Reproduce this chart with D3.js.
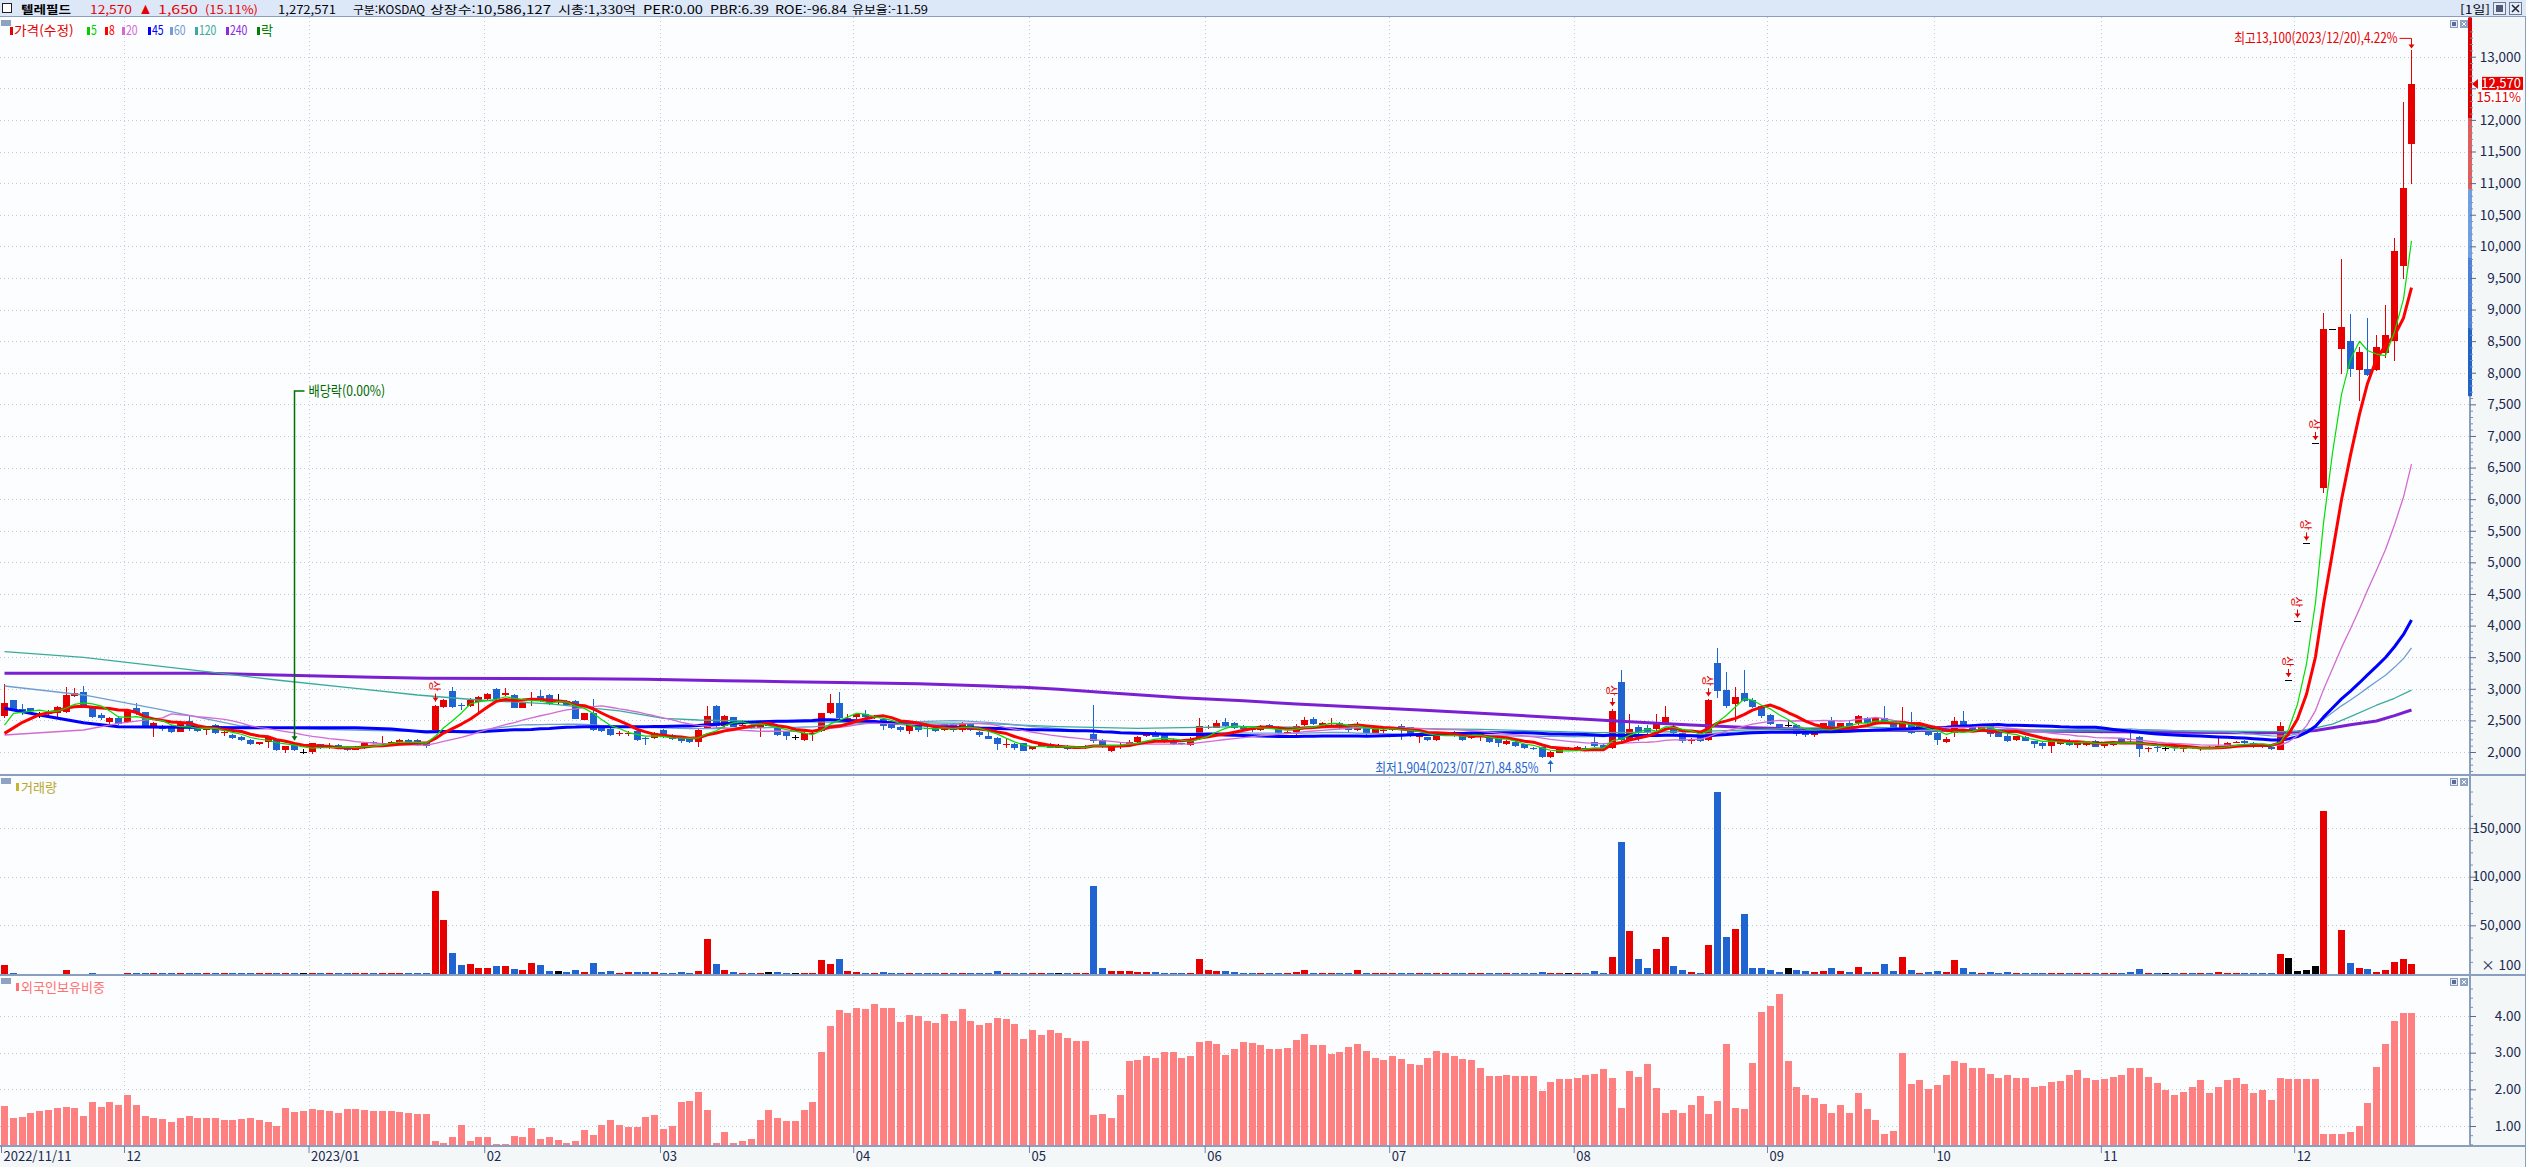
<!DOCTYPE html>
<html lang="ko">
<head>
<meta charset="UTF-8">
<style>
  body { margin: 0; background: #ffffff; }
  svg text { font-family: "Noto Sans CJK KR", "Liberation Sans", sans-serif; }
</style>
</head>
<body>
<svg id="chart" width="2526" height="1167"></svg>
<script src="https://d3js.org/d3.v7.min.js"></script>
<script>
// ---- daily candles, 2022/11/11 .. 2023/12/20 (275 trading days) ----
const openP = [
  2570,2823,2680,2691,2585,2596,2622,2638,2886,2955, 2707,2585,2480,2543,2480,2691,2628,2390,2417,2401,
  2322,2491,2417,2348,2427,2300,2269,2232,2190,2127, 2153,2200,2032,2127,2005,2005,2122,2085,2111,2069,
  2032,2058,2164,2127,2127,2153,2190,2190,2148,2348, 2717,2965,2750,2728,2797,2839,2992,2902,2902,2702,
  2823,2892,2902,2807,2807,2807,2506,2612,2401,2364, 2280,2280,2332,2227,2216,2348,2269,2232,2206,2164,
  2385,2728,2411,2549,2420,2417,2375,2427,2385,2322, 2243,2190,2290,2338,2612,2770,2528,2559,2601,2549,
  2517,2443,2401,2338,2454,2375,2375,2348,2443,2348, 2454,2322,2253,2227,2117,2127,2137,2042,2095,2127,
  2085,2100,2060,2058,2285,2190,2021,2095,2127,2164, 2260,2295,2269,2190,2148,2111,2200,2390,2385,2470,
  2454,2400,2384,2347,2426,2400,2310,2320,2426,2516, 2426,2450,2453,2416,2347,2389,2305,2340,2347,2416,
  2389,2231,2231,2189,2268,2300,2310,2215,2242,2258, 2205,2126,2163,2126,2070,2073,1915,1990,2047,2021,
  2060,2152,2110,2057,3101,2189,2400,2374,2363,2442, 2400,2294,2185,2242,2189,3402,2980,2758,2927,2822,
  2732,2585,2442,2426,2426,2337,2268,2363,2505,2400, 2463,2453,2532,2437,2532,2490,2363,2469,2400,2384,
  2305,2163,2294,2495,2416,2347,2426,2321,2252,2189, 2242,2173,2147,2100,2126,2178,2110,2110,2178,2100,
  2110,2215,2210,2242,2050,2085,2057,2080,2060,2094, 2050,2084,2057,2084,2155,2173,2147,2110,2073,2031,
  3140,4080,5300,6890,6180,8690,8380,8510,8050,8060, 8050,8310,8500,9690,11620
];
const highP = [
  3070,2830,2754,2700,2638,2660,2720,3034,3007,3044, 2720,2620,2555,2575,2680,2770,2640,2470,2430,2420,
  2480,2570,2430,2400,2440,2340,2290,2250,2210,2160, 2240,2210,2100,2140,2040,2150,2130,2150,2130,2080,
  2090,2160,2180,2253,2180,2200,2200,2200,2160,2750, 2840,3030,2770,2860,2880,2930,3010,3018,2920,2780,
  2955,2980,2920,2910,2820,2820,2620,2833,2410,2380, 2340,2330,2350,2240,2310,2360,2280,2240,2220,2360,
  2728,2740,2580,2560,2510,2430,2450,2500,2440,2330, 2270,2310,2330,2620,2913,2949,2600,2610,2660,2580,
  2530,2450,2410,2440,2470,2440,2400,2450,2460,2480, 2460,2330,2330,2240,2200,2140,2150,2100,2140,2140,
  2130,2110,2090,2110,2744,2200,2090,2140,2190,2250, 2290,2340,2280,2200,2150,2240,2538,2420,2500,2530,
  2470,2420,2400,2420,2440,2410,2340,2440,2550,2560, 2470,2540,2470,2440,2480,2400,2400,2380,2400,2440,
  2400,2280,2240,2280,2320,2330,2320,2280,2300,2270, 2210,2190,2180,2130,2080,2080,2020,2070,2080,2100,
  2100,2230,2150,2680,3297,2600,2430,2420,2600,2730, 2420,2300,2220,2250,2835,3639,3260,3033,3297,2850,
  2750,2600,2450,2500,2440,2350,2350,2460,2560,2460, 2500,2590,2560,2560,2732,2510,2716,2627,2460,2390,
  2310,2230,2560,2648,2450,2440,2440,2330,2300,2260, 2250,2180,2160,2210,2190,2200,2160,2170,2190,2160,
  2170,2220,2360,2250,2080,2090,2080,2085,2085,2100, 2080,2090,2252,2160,2170,2190,2160,2120,2080,2470,
  3140,4080,5300,6890,8950,8690,9800,8930,8400,8870, 8600,9075,10130,12280,13100
];
const lowP = [
  2533,2650,2585,2620,2533,2570,2528,2620,2870,2700, 2530,2510,2430,2420,2460,2580,2380,2243,2340,2300,
  2310,2340,2320,2269,2290,2250,2210,2170,2110,2110, 2069,2010,1980,2010,1970,1963,2050,2040,2050,2020,
  2030,2050,2120,2110,2100,2140,2140,2100,2070,2340, 2700,2700,2660,2710,2620,2820,2820,2880,2690,2690,
  2720,2790,2750,2740,2730,2520,2500,2330,2310,2260, 2250,2250,2170,2110,2200,2220,2190,2140,2150,2084,
  2360,2400,2370,2390,2410,2370,2243,2410,2260,2190, 2190,2180,2180,2320,2600,2500,2510,2520,2540,2520,
  2350,2370,2310,2290,2320,2230,2320,2330,2320,2320, 2330,2240,2200,2030,2070,2030,2010,2030,2080,2060,
  2070,2030,2040,2050,2150,2070,2000,2050,2110,2150, 2240,2230,2150,2110,2110,2100,2190,2370,2380,2400,
  2370,2350,2320,2330,2370,2280,2280,2270,2410,2420, 2410,2420,2360,2320,2330,2250,2280,2300,2330,2189,
  2240,2150,2170,2170,2250,2240,2180,2200,2180,2150, 2080,2110,2080,2040,2030,1910,1904,1980,2040,2010,
  2040,2080,2030,2050,2140,2170,2170,2290,2340,2420, 2280,2150,2130,2160,2180,2848,2700,2480,2790,2700,
  2530,2420,2380,2400,2260,2230,2240,2330,2370,2380, 2400,2420,2440,2420,2440,2350,2340,2280,2380,2250,
  2110,2150,2240,2390,2330,2330,2230,2230,2160,2180, 2170,2060,2050,1990,2110,2100,2070,2090,2080,2060,
  2100,2120,2130,1920,2000,2000,2020,2010,2000,2040, 2010,2050,2040,2070,2140,2130,2070,2070,2030,2030,
  3140,4080,5300,6890,6100,8690,7980,7930,7560,7950, 8020,8230,8190,9490,10990
];
const closeP = [
  2770,2665,2649,2649,2585,2638,2707,2902,2939,2707, 2549,2533,2543,2443,2665,2612,2390,2459,2359,2322,
  2470,2375,2338,2385,2295,2310,2227,2190,2127,2153, 2232,2032,2095,2032,2005,2137,2069,2095,2069,2032,
  2085,2148,2137,2148,2164,2190,2148,2111,2095,2720, 2823,2717,2735,2823,2865,2918,2834,2928,2702,2770,
  2834,2807,2760,2807,2744,2527,2612,2348,2332,2269, 2295,2295,2190,2200,2295,2232,2200,2180,2164,2348,
  2570,2411,2570,2401,2430,2380,2443,2427,2269,2253, 2243,2295,2306,2612,2770,2533,2538,2601,2549,2560,
  2411,2385,2348,2427,2348,2364,2338,2443,2348,2464, 2348,2269,2211,2122,2127,2069,2021,2095,2127,2069,
  2085,2042,2070,2100,2180,2085,2085,2100,2164,2243, 2270,2243,2164,2127,2127,2190,2411,2400,2454,2411,
  2385,2363,2347,2400,2384,2294,2320,2416,2505,2437, 2453,2460,2384,2347,2426,2294,2384,2350,2384,2347,
  2258,2268,2189,2268,2310,2270,2189,2268,2284,2163, 2136,2178,2100,2057,2060,1915,2005,2057,2047,2073,
  2050,2094,2042,2650,2189,2358,2321,2310,2453,2558, 2294,2178,2195,2178,2830,2970,2732,2874,2806,2716,
  2574,2437,2400,2426,2284,2268,2347,2453,2389,2453, 2416,2568,2463,2542,2453,2363,2490,2294,2437,2268,
  2189,2205,2495,2400,2347,2426,2279,2242,2178,2252, 2178,2126,2100,2205,2178,2110,2152,2163,2084,2152,
  2163,2136,2205,2047,2060,2075,2057,2070,2070,2057, 2060,2057,2094,2147,2165,2147,2084,2100,2042,2416,
  3140,4080,5300,6890,8690,8690,8720,8060,8330,7960, 8410,8600,9930,10920,12570
];
// volume, shown in hundreds of shares (x100)
const volume = [
  9700,1400,500,500,500,500,500,4500,500,500, 1400,500,500,500,1400,800,800,800,800,800,
  800,800,800,800,800,800,800,800,800,800, 800,800,800,800,800,800,800,800,800,800,
  800,800,800,800,800,800,800,800,800,84900, 55900,21700,9300,10350,6200,6200,8300,8300,5200,4100,
  11400,9300,3100,3100,2000,4100,2000,11400,2000,3100, 1000,2000,2000,2000,2000,1000,1000,2000,1000,3100,
  36200,10350,4100,2000,1000,1000,1000,2000,2000,1000, 1000,1000,1000,14500,10350,15500,3100,2000,1000,1000,
  2000,1000,1000,1000,1000,1000,1000,1000,1000,1000, 1000,1000,1000,3100,1000,1000,1000,1000,1000,1000,
  1000,1000,1000,1000,90000,6200,3100,3100,3100,2000, 2000,2000,1000,1000,1000,1000,15500,4100,3100,3100,
  2000,1000,1000,1000,1000,1000,1000,2000,4100,1000, 1000,1000,1000,1000,4100,1000,1000,1000,1000,1000,
  1000,1000,1000,1000,1000,1000,1000,1000,1000,1000, 1000,1000,1000,1000,1000,2000,1000,1000,1000,1000,
  1000,3100,1000,17600,135600,44500,15500,6200,25900,38300, 8300,4100,2000,1000,30000,187300,38300,46600,62100,6200,
  6200,4100,2000,6200,4100,3100,2000,3100,6200,3100, 2000,7200,2000,2000,10350,3100,17600,4100,1000,2000,
  3100,2000,14500,6200,2000,1000,2000,1000,2000,1000, 1000,1000,1000,1000,1000,1000,1000,1000,1000,1000,
  1000,1000,2500,5500,1000,1000,1000,1000,1000,1000, 1000,1000,2000,1000,1000,1000,1000,1000,1000,20300,
  16200,2800,3800,7900,167000,0,45000,11000,5900,4800, 1700,3800,12000,15200,10000
];
// foreign ownership ratio (%)
const foreignPct = [
  1.54,1.22,1.24,1.35,1.41,1.43,1.49,1.52,1.49,1.27, 1.65,1.52,1.65,1.57,1.84,1.57,1.27,1.22,1.19,1.11,
  1.22,1.27,1.22,1.22,1.22,1.16,1.16,1.19,1.22,1.16, 1.11,1.00,1.49,1.38,1.41,1.46,1.43,1.41,1.35,1.46,
  1.46,1.43,1.41,1.41,1.41,1.38,1.35,1.33,1.33,0.60, 0.55,0.70,1.03,0.59,0.70,0.70,0.51,0.51,0.73,0.70,
  0.94,0.65,0.70,0.62,0.55,0.59,0.89,0.75,1.03,1.16, 1.03,0.97,0.97,1.25,1.30,0.92,1.00,1.65,1.68,1.93,
  1.44,0.54,0.84,0.54,0.59,0.65,1.16,1.44,1.22,1.14, 1.14,1.44,1.65,3.02,3.73,4.16,4.08,4.22,4.19,4.33,
  4.22,4.22,3.84,4.03,4.00,3.86,3.81,4.05,3.86,4.19, 3.86,3.75,3.81,3.95,3.92,3.78,3.37,3.62,3.48,3.62,
  3.54,3.40,3.32,3.32,1.30,1.33,1.22,1.85,2.77,2.80, 2.91,2.85,3.02,3.02,2.85,2.91,3.29,3.32,3.24,2.94,
  3.10,3.29,3.26,3.21,3.10,3.10,3.13,3.35,3.51,3.21, 3.21,2.96,3.02,3.15,3.24,3.05,2.85,2.80,2.91,2.83,
  2.69,2.66,2.85,3.05,2.99,2.91,2.83,2.80,2.58,2.36, 2.36,2.39,2.36,2.36,2.36,1.95,2.20,2.28,2.28,2.31,
  2.39,2.42,2.55,2.31,1.49,2.50,2.34,2.69,2.04,1.35, 1.44,1.35,1.57,1.82,1.33,1.68,3.24,1.49,1.46,2.72,
  4.11,4.27,4.60,2.77,2.06,1.85,1.76,1.60,1.35,1.57, 1.35,1.90,1.46,1.16,0.78,0.86,2.99,2.15,2.25,2.01,
  2.12,2.39,2.77,2.72,2.58,2.58,2.42,2.31,2.39,2.31, 2.31,2.06,2.09,2.20,2.23,2.39,2.53,2.31,2.25,2.28,
  2.34,2.39,2.59,2.59,2.34,2.17,1.98,1.84,1.93,2.06, 2.25,1.90,2.06,2.25,2.31,2.14,1.90,1.98,1.71,2.31,
  2.28,2.28,2.28,2.28,0.78,0.78,0.78,0.84,1.00,1.62, 2.61,3.24,3.86,4.08,4.08
];

// month labels on the time axis: bar index where each month starts
const monthIdx = [0, 14, 35, 55, 75, 97, 117, 137, 158, 179, 201, 220, 239, 261];
const monthLbl = ['2022/11/11', '12', '2023/01', '02', '03', '04', '05', '06', '07', '08', '09', '10', '11', '12'];

// moving averages: values read where the window reaches before the first bar
const ma5Early = [[0, 2427], [1, 2610]];
const ma8Early = [[0, 2295], [2, 2470], [4, 2590], [6, 2650]];
const ma20Early = [[0, 2269], [9, 2348], [13, 2454], [18, 2540]];
const ma45Early = [[0, 2691], [4, 2586], [9, 2464], [13, 2401], [27, 2385], [40, 2383]];
const ma60Early = [[0, 3044], [9, 2902], [18, 2665], [27, 2411], [36, 2359], [45, 2332], [54, 2340]];
const ma120Read = [[0, 3588], [9, 3498], [23, 3271], [31, 3139], [40, 3007], [47, 2902], [54, 2823], [62, 2760],
  [70, 2650], [75, 2533], [79, 2506], [88, 2480], [97, 2470], [111, 2454], [120, 2401], [129, 2375], [141, 2400],
  [159, 2374], [168, 2358], [177, 2321], [181, 2305], [186, 2310], [194, 2331], [204, 2374], [211, 2400], [226, 2321],
  [245, 2337], [259, 2321], [261, 2330], [263, 2380], [265, 2440], [267, 2560], [270, 2740], [272, 2850], [274, 2980]];
const ma240Read = [[0, 3245], [23, 3245], [31, 3218], [42, 3181], [48, 3168], [66, 3160], [73, 3150], [82, 3129],
  [89, 3113], [97, 3097], [104, 3081], [112, 3044], [116, 3023], [120, 2992], [126, 2934], [134, 2860], [141, 2811],
  [147, 2759], [154, 2711], [161, 2664], [169, 2606], [177, 2542], [185, 2479], [192, 2426], [199, 2384], [204, 2363],
  [211, 2340], [226, 2340], [240, 2321], [255, 2305], [259, 2305], [261, 2315], [263, 2340], [265, 2385], [267, 2430],
  [270, 2490], [272, 2575], [274, 2664]];

const limitUpIdx = [49, 183, 194, 260, 261, 262, 263];
const exDivIdx = 33;
const highIdx = 274, lowIdx = 176;
const priceTicks = d3.range(2000, 13001, 500);
const volTicks = [50000, 100000, 150000];
const frgTicks = [1, 2, 3, 4];
// colour band on the price axis (price bounds)
const axisBand = [13620, 12030, 10900, 9815, 8710, 7630];

// ---- layout ----
const svg = d3.select('#chart');
const W = 2526, H = 1167;
const plotR = 2470;
const pTop = 17, pBot = 775, vBot = 975, fBot = 1146;
const RED = '#e60000', BLUE = '#1f64d0', NAVY = '#1c2850', GRID = '#c4cad4', EDGE = '#8a9ec0';

const slots = 281;
const x = d3.scaleBand().domain(d3.range(slots)).range([1, 2468]).paddingInner(0.21).paddingOuter(0);
const bw = x.bandwidth();
const xl = d3.scaleLinear().domain([0, slots]).range([x(0), x(0) + slots * x.step()]);
const cx = i => Math.round(x(i)) + 3.5;

const y = d3.scaleLinear().domain([2000, 13000]).range([752, 56.7]);
const yVol = d3.scaleLinear().domain([0, 150000]).range([974, 828]);
const yFrg = d3.scaleLinear().domain([1, 4]).range([1126, 1016]);

// narrow bitmap-like text: ~6px per latin char, 12px per hangul
function narrow(sel) {
  sel.each(function () {
    let w = 0;
    for (const ch of this.textContent) w += /[\u3131-\uD7A3]/.test(ch) ? 12 : (ch === ' ' ? 4 : 5.8);
    d3.select(this).attr('textLength', w).attr('lengthAdjust', 'spacingAndGlyphs');
  });
}

// backgrounds
svg.append('rect').attr('width', W).attr('height', H).attr('fill', '#fbfdfe');
svg.append('rect').attr('x', plotR).attr('y', pTop).attr('width', W - plotR).attr('height', fBot - pTop).attr('fill', '#f3f7f7');
svg.append('rect').attr('x', 0).attr('y', fBot).attr('width', W).attr('height', H - fBot).attr('fill', '#f3f7f7');

// grid
const grid = svg.append('g').attr('stroke', GRID).attr('stroke-dasharray', '1,3').attr('shape-rendering', 'crispEdges');
grid.selectAll('.hp').data(priceTicks).join('line')
  .attr('x1', 0).attr('x2', plotR).attr('y1', d => Math.round(y(d)) + 0.5).attr('y2', d => Math.round(y(d)) + 0.5);
grid.selectAll('.hv').data(volTicks).join('line')
  .attr('x1', 0).attr('x2', plotR).attr('y1', d => Math.round(yVol(d)) + 0.5).attr('y2', d => Math.round(yVol(d)) + 0.5);
grid.selectAll('.hf').data(frgTicks).join('line')
  .attr('x1', 0).attr('x2', plotR).attr('y1', d => Math.round(yFrg(d)) + 0.5).attr('y2', d => Math.round(yFrg(d)) + 0.5);
grid.selectAll('.vm').data(monthIdx.slice(1)).join('line')
  .attr('x1', d => Math.round(xl(d)) + 0.5).attr('x2', d => Math.round(xl(d)) + 0.5)
  .attr('y1', pTop).attr('y2', fBot);

// clip for price panel
svg.append('clipPath').attr('id', 'pclip').append('rect')
  .attr('x', 0).attr('y', pTop + 1).attr('width', plotR).attr('height', pBot - pTop - 2);

const candleColor = i => closeP[i] > openP[i] ? RED : (closeP[i] < openP[i] ? BLUE : '#000000');

// candles
const cg = svg.append('g').attr('clip-path', 'url(#pclip)').attr('shape-rendering', 'crispEdges');
const idx = d3.range(closeP.length);
cg.selectAll('.wick').data(idx).join('line')
  .attr('x1', cx).attr('x2', cx)
  .attr('y1', i => y(Math.max(highP[i], openP[i], closeP[i])))
  .attr('y2', i => y(Math.min(lowP[i], openP[i], closeP[i])))
  .attr('stroke', candleColor).attr('stroke-width', 1);
cg.selectAll('.body').data(idx.filter(i => openP[i] !== closeP[i])).join('rect')
  .attr('x', i => Math.round(x(i)))
  .attr('width', Math.round(bw))
  .attr('y', i => y(Math.max(openP[i], closeP[i])))
  .attr('height', i => Math.max(1, y(Math.min(openP[i], closeP[i])) - y(Math.max(openP[i], closeP[i]))))
  .attr('fill', candleColor);
cg.selectAll('.flat').data(idx.filter(i => openP[i] === closeP[i])).join('line')
  .attr('x1', i => Math.round(x(i))).attr('x2', i => Math.round(x(i)) + Math.round(bw))
  .attr('y1', i => Math.round(y(closeP[i])) + 0.5).attr('y2', i => Math.round(y(closeP[i])) + 0.5)
  .attr('stroke', '#000000');

// moving averages
function maSeries(win, early) {
  const pts = early.slice();
  for (let i = win - 1; i < closeP.length; i++) {
    pts.push([i, d3.mean(closeP.slice(i - win + 1, i + 1))]);
  }
  return pts;
}
const maLine = d3.line().x(d => Math.round(x(d[0])) + 3.5).y(d => y(d[1]));
const lines = [
  { pts: ma240Read, color: '#7a1fd2', w: 3 },
  { pts: ma120Read, color: '#3aab9b', w: 1.3 },
  { pts: maSeries(60, ma60Early), color: '#6e9ed2', w: 1.3 },
  { pts: maSeries(45, ma45Early), color: '#0000ff', w: 3 },
  { pts: maSeries(20, ma20Early), color: '#d46ad4', w: 1.3 },
  { pts: maSeries(8, ma8Early), color: '#ff0000', w: 3 },
  { pts: maSeries(5, ma5Early), color: '#00e000', w: 1.2 }
];
const lg = svg.append('g').attr('clip-path', 'url(#pclip)').attr('fill', 'none');
lg.selectAll('path').data(lines).join('path')
  .attr('d', d => maLine(d.pts)).attr('stroke', d => d.color).attr('stroke-width', d => d.w)
  .attr('stroke-linejoin', 'round');

// limit-up marks
const ug = svg.append('g');
limitUpIdx.forEach(i => {
  const c = cx(i), tip = y(highP[i]) - 3;
  ug.append('line').attr('x1', c).attr('x2', c).attr('y1', tip - 8).attr('y2', tip).attr('stroke', RED);
  ug.append('path').attr('d', `M${c - 3},${tip - 4}L${c + 3},${tip - 4}L${c},${tip}Z`).attr('fill', RED);
  ug.append('text').attr('transform', `translate(${c},${tip - 10}) rotate(90)`)
    .attr('text-anchor', 'end').attr('dominant-baseline', 'central')
    .attr('font-size', 12).attr('fill', RED).text('상');
});

// ex-dividend marker
{
  const c = cx(exDivIdx), top = y(7710), bot = y(highP[exDivIdx]) - 3;
  const g = svg.append('g');
  g.append('path').attr('d', `M${c + 10},${top}H${c}V${bot}`).attr('fill', 'none').attr('stroke', '#007000').attr('stroke-width', 1.5);
  g.append('path').attr('d', `M${c - 3},${bot - 4}L${c + 3},${bot - 4}L${c},${bot}Z`).attr('fill', '#007000');
  g.append('text').attr('x', c + 14).attr('y', top + 5).attr('font-size', 14).attr('fill', '#006a00').text('배당락(0.00%)')
    .call(narrow);
}

// high / low labels
{
  const c = cx(highIdx), yy = y(highP[highIdx]);
  const g = svg.append('g');
  g.append('text').attr('x', c - 14).attr('y', yy - 7).attr('text-anchor', 'end').attr('font-size', 14).attr('fill', RED)
    .text('최고13,100(2023/12/20),4.22%').call(narrow);
  g.append('path').attr('d', `M${c - 12},${yy - 12}H${c}V${yy - 3}`).attr('fill', 'none').attr('stroke', RED);
  g.append('path').attr('d', `M${c - 3},${yy - 6}L${c + 3},${yy - 6}L${c},${yy - 2}Z`).attr('fill', RED);

  const c2 = cx(lowIdx), y2 = y(lowP[lowIdx]);
  g.append('text').attr('x', c2 - 12).attr('y', y2 + 15).attr('text-anchor', 'end').attr('font-size', 14).attr('fill', BLUE)
    .text('최저1,904(2023/07/27),84.85%').call(narrow);
  g.append('line').attr('x1', c2).attr('x2', c2).attr('y1', y2 + 14).attr('y2', y2 + 3).attr('stroke', BLUE);
  g.append('path').attr('d', `M${c2 - 3},${y2 + 6}L${c2 + 3},${y2 + 6}L${c2},${y2 + 2}Z`).attr('fill', BLUE);
}

// volume bars
svg.append('g').attr('shape-rendering', 'crispEdges').selectAll('rect')
  .data(idx.filter(i => volume[i] > 0)).join('rect')
  .attr('x', i => Math.round(x(i))).attr('width', Math.round(bw))
  .attr('y', i => Math.min(yVol(volume[i]), vBot - 1)).attr('height', i => Math.max(1, vBot - yVol(volume[i])))
  .attr('fill', candleColor);

// foreign ownership bars
svg.append('g').attr('shape-rendering', 'crispEdges').selectAll('rect')
  .data(idx).join('rect')
  .attr('x', i => Math.round(x(i))).attr('width', Math.round(bw))
  .attr('y', i => yFrg(foreignPct[i])).attr('height', i => fBot - yFrg(foreignPct[i]))
  .attr('fill', '#ff8080');

// panel frames
const frame = svg.append('g').attr('stroke', EDGE).attr('shape-rendering', 'crispEdges');
frame.append('line').attr('x1', 0).attr('x2', W).attr('y1', pBot).attr('y2', pBot).attr('stroke-width', 2);
frame.append('line').attr('x1', 0).attr('x2', W).attr('y1', vBot).attr('y2', vBot).attr('stroke-width', 2);
frame.append('line').attr('x1', 0).attr('x2', W).attr('y1', fBot).attr('y2', fBot).attr('stroke-width', 2);
frame.append('line').attr('x1', plotR).attr('x2', plotR).attr('y1', pTop).attr('y2', fBot).attr('stroke-width', 2);
frame.append('line').attr('x1', W - 0.5).attr('x2', W - 0.5).attr('y1', pTop).attr('y2', H);

// colour band on the price axis
const bandCols = ['#dd0000', '#e25c5c', '#6e9fe2', '#4b80d8', '#1f62c8'];
svg.append('g').selectAll('rect').data(d3.range(bandCols.length)).join('rect')
  .attr('x', plotR - 2).attr('width', 4)
  .attr('y', k => Math.max(pTop, y(axisBand[k]))).attr('height', k => y(axisBand[k + 1]) - Math.max(pTop, y(axisBand[k])))
  .attr('fill', k => bandCols[k]);

// right axes
const lastClose = closeP[closeP.length - 1];
function styleAxis(g) {
  g.select('.domain').remove();
  g.attr('font-family', null).attr('font-size', null);
  g.selectAll('line').attr('stroke', '#5c6890');
  g.selectAll('text').attr('x', 51).attr('text-anchor', 'end').attr('fill', NAVY).style('font-size', '13.5px');
}
function minorStyle(g) {
  g.select('.domain').remove();
  g.selectAll('line').attr('stroke', '#8090b0');
}
const minorP = d3.range(1700, 13600, 100).filter(v => v % 500 !== 0);
svg.append('g').attr('transform', `translate(${plotR},0)`)
  .call(d3.axisRight(y).tickValues(minorP).tickSize(3).tickFormat(''))
  .call(minorStyle);
svg.append('g').attr('transform', `translate(${plotR},0)`)
  .call(d3.axisRight(y).tickValues(priceTicks).tickSize(6)
    .tickFormat(v => Math.abs(v - lastClose) < 200 ? '' : d3.format(',')(v)))
  .call(styleAxis);

svg.append('g').attr('transform', `translate(${plotR},0)`)
  .call(d3.axisRight(yVol).tickValues(d3.range(12500, 200000, 12500).filter(v => v % 50000 !== 0)).tickSize(3).tickFormat(''))
  .call(minorStyle);
svg.append('g').attr('transform', `translate(${plotR},0)`)
  .call(d3.axisRight(yVol).tickValues(volTicks).tickSize(6).tickFormat(d3.format(',')))
  .call(styleAxis);
svg.append('text').attr('x', 2521).attr('y', 970).attr('text-anchor', 'end').attr('fill', NAVY)
  .attr('font-size', 13.5).text('× 100');

svg.append('g').attr('transform', `translate(${plotR},0)`)
  .call(d3.axisRight(yFrg).tickValues(d3.range(0.5, 5.1, 0.25).filter(v => v % 1 !== 0)).tickSize(3).tickFormat(''))
  .call(minorStyle);
svg.append('g').attr('transform', `translate(${plotR},0)`)
  .call(d3.axisRight(yFrg).tickValues(frgTicks).tickSize(6).tickFormat(d3.format('.2f')))
  .call(styleAxis);

// time axis
svg.append('g').attr('transform', `translate(0,${fBot})`)
  .call(d3.axisBottom(xl).tickValues(monthIdx).tickSize(7).tickFormat((d, k) => monthLbl[k]))
  .call(g => {
    g.select('.domain').remove();
    g.attr('font-family', null).attr('font-size', null);
    g.selectAll('line').attr('stroke', '#7080a8');
    g.selectAll('text').attr('x', 2).attr('y', 15).attr('dy', null).attr('text-anchor', 'start')
      .attr('fill', NAVY).style('font-size', '13px');
  });

// current price marker
{
  const yc = y(lastClose);
  svg.append('path').attr('d', `M${plotR + 2},${yc}L${plotR + 8},${yc - 5}L${plotR + 8},${yc + 5}Z`).attr('fill', RED);
  svg.append('rect').attr('x', 2482).attr('y', yc - 7).attr('width', 41).attr('height', 13).attr('fill', RED);
  svg.append('text').attr('x', 2521).attr('y', yc + 4.5).attr('text-anchor', 'end').attr('fill', '#ffffff')
    .attr('font-size', 13).text(d3.format(',')(lastClose));
  svg.append('rect').attr('x', 2482).attr('y', yc + 7).attr('width', 41).attr('height', 12).attr('fill', '#ffffff');
  svg.append('text').attr('x', 2521).attr('y', yc + 18.5).attr('text-anchor', 'end').attr('fill', RED)
    .attr('font-size', 13).text('15.11%');
}

// panel legends and buttons
function panelIcon(top) {
  svg.append('rect').attr('x', 1).attr('y', top + 3).attr('width', 10).attr('height', 6).attr('fill', '#8ea2c4');
}
function panelButtons(top) {
  svg.append('rect').attr('x', 2450.5).attr('y', top + 3.5).attr('width', 7).attr('height', 7).attr('fill', '#e4ebf6').attr('stroke', '#8a9ac0');
  svg.append('rect').attr('x', 2452).attr('y', top + 5).attr('width', 4).attr('height', 4).attr('fill', '#5c6c98');
  svg.append('rect').attr('x', 2460).attr('y', top + 3).attr('width', 8).attr('height', 8).attr('fill', '#8ea2c4');
  svg.append('path').attr('d', `M2462,${top + 5}L2466,${top + 9}M2466,${top + 5}L2462,${top + 9}`).attr('stroke', '#ffffff');
}
[pTop, pBot, vBot].forEach(t => { panelIcon(t); panelButtons(t); });

const legend = [
  { x: 10, t: '가격(수정)', c: '#e60000' }, { x: 87, t: '5', c: '#00d000' }, { x: 105, t: '8', c: '#ff0000' },
  { x: 122, t: '20', c: '#d46ad4' }, { x: 148, t: '45', c: '#0000ff' }, { x: 170, t: '60', c: '#6e9ed2' },
  { x: 195, t: '120', c: '#3aab9b' }, { x: 226, t: '240', c: '#8a2be2' }, { x: 257, t: '락', c: '#008000' }
];
legend.forEach(d => {
  svg.append('rect').attr('x', d.x).attr('y', pTop + 10).attr('width', 3).attr('height', 8).attr('fill', d.c);
  svg.append('text').attr('x', d.x + 4).attr('y', pTop + 18).attr('font-size', 13).attr('fill', d.c).text(d.t).call(narrow);
});
svg.append('rect').attr('x', 16).attr('y', pBot + 8).attr('width', 3).attr('height', 8).attr('fill', '#c8b432');
svg.append('text').attr('x', 21).attr('y', pBot + 17).attr('font-size', 13).attr('fill', '#b8a62c').text('거래량').call(narrow);
svg.append('rect').attr('x', 16).attr('y', vBot + 8).attr('width', 3).attr('height', 8).attr('fill', '#ff7070');
svg.append('text').attr('x', 21).attr('y', vBot + 17).attr('font-size', 13).attr('fill', '#ff7070').text('외국인보유비중').call(narrow);

// title bar
svg.append('rect').attr('width', W).attr('height', pTop).attr('fill', '#dce7f8');
svg.append('line').attr('x1', 0).attr('x2', W).attr('y1', pTop - 0.5).attr('y2', pTop - 0.5).attr('stroke', EDGE);
svg.append('rect').attr('x', 2.5).attr('y', 3.5).attr('width', 9).attr('height', 9).attr('fill', '#ffffff').attr('stroke', '#202020');
const title = [
  { x: 21, w: 50, t: '텔레필드', c: '#000000', b: true }, { x: 90, w: 42, t: '12,570', c: RED },
  { x: 141, w: 9, t: '▲', c: RED }, { x: 158, w: 40, t: '1,650', c: RED }, { x: 205, w: 53, t: '(15.11%)', c: RED },
  { x: 278, w: 58, t: '1,272,571', c: '#000000' }, { x: 353, w: 72, t: '구분:KOSDAQ', c: '#000000' },
  { x: 430, w: 121, t: '상장수:10,586,127', c: '#000000' }, { x: 558, w: 78, t: '시총:1,330억', c: '#000000' },
  { x: 643, w: 60, t: 'PER:0.00', c: '#000000' }, { x: 710, w: 59, t: 'PBR:6.39', c: '#000000' },
  { x: 775, w: 72, t: 'ROE:-96.84', c: '#000000' }, { x: 852, w: 76, t: '유보율:-11.59', c: '#000000' }
];
svg.append('g').selectAll('text').data(title).join('text')
  .attr('x', d => d.x).attr('y', 14).attr('font-size', 11.5).attr('font-weight', d => d.b ? 'bold' : 'normal')
  .attr('fill', d => d.c).attr('textLength', d => d.w).attr('lengthAdjust', 'spacingAndGlyphs').text(d => d.t);
svg.append('text').attr('x', 2460).attr('y', 14).attr('font-size', 11.5).attr('fill', '#000000')
  .attr('textLength', 30).attr('lengthAdjust', 'spacingAndGlyphs').text('[1일]');
svg.append('rect').attr('x', 2493.5).attr('y', 2.5).attr('width', 12).attr('height', 12).attr('fill', '#e8edf5').attr('stroke', '#6c7a98');
svg.append('rect').attr('x', 2496).attr('y', 5).attr('width', 7).attr('height', 7).attr('fill', '#505a78');
svg.append('rect').attr('x', 2509.5).attr('y', 2.5).attr('width', 12).attr('height', 12).attr('fill', '#e8edf5').attr('stroke', '#6c7a98');
svg.append('path').attr('d', 'M2512,5L2519,12M2519,5L2512,12').attr('stroke', '#202840').attr('stroke-width', 1.6);
</script>
</body>
</html>
